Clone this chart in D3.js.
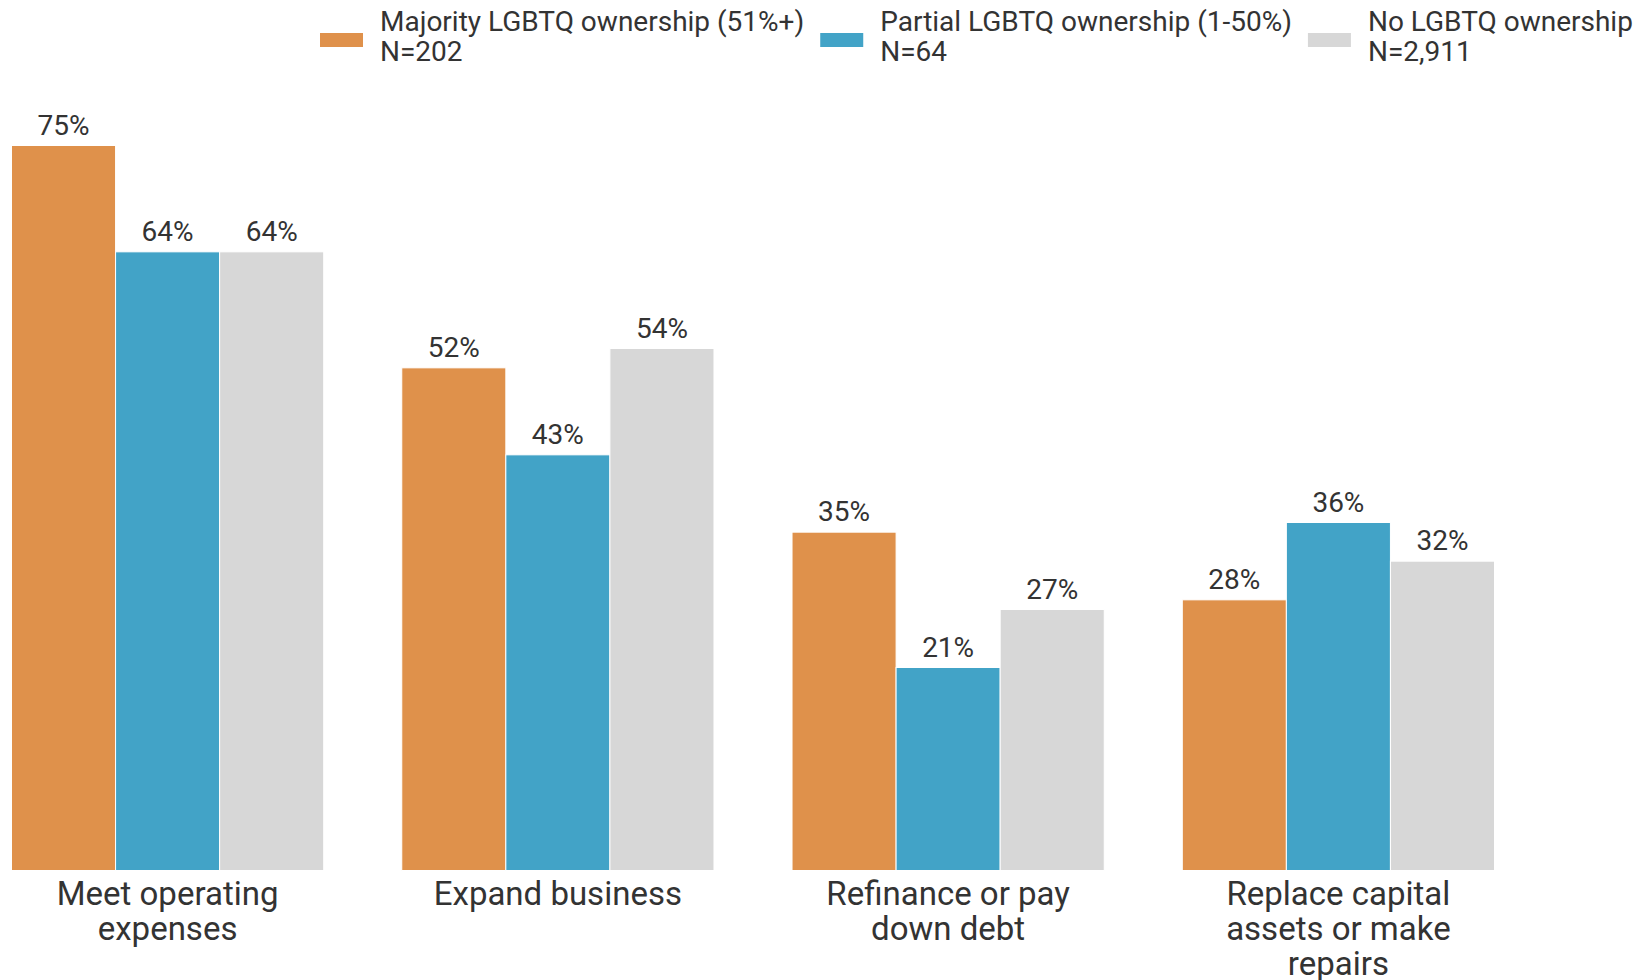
<!DOCTYPE html>
<html>
<head>
<meta charset="utf-8">
<script src="https://cdn.jsdelivr.net/npm/d3@7"></script>
<style>
	body { margin: 0; background: #fff; }
	text { font-family: Roboto, "Noto Sans", sans-serif; fill: #333; }
</style>
</head>
<body>
<div id="chartContainer"></div>
<script>

// categories, each split into its display lines
let categories = [
	["Meet operating", "expenses"],
	["Expand business"],
	["Refinance or pay", "down debt"],
	["Replace capital", "assets or make", "repairs"]
];

let seriesNames = ["Majority LGBTQ ownership (51%+)", "Partial LGBTQ ownership (1-50%)", "No LGBTQ ownership"];
let seriesN = ["N=202", "N=64", "N=2,911"];
let seriesColors = ["#df914b", "#42a3c7", "#d7d7d7"];

let majorityValues = [75, 52, 35, 28];
let partialValues = [64, 43, 21, 36];
let noneValues = [64, 54, 27, 32];

let allValues = [majorityValues, partialValues, noneValues];

function initializeBarChart(){

	let svg = d3.select("#chartContainer")
		.append("svg")
		.attr("width", 1642)
		.attr("height", 980);

	let groupScale = d3.scaleBand()
		.domain(d3.range(categories.length))
		.range([11.5, 1494.5])
		.paddingInner(0.2)
		.paddingOuter(0);

	let seriesScale = d3.scaleBand()
		.domain(d3.range(seriesNames.length))
		.range([0, groupScale.bandwidth()]);

	let yScale = d3.scaleLinear()
		.domain([0, 90])
		.range([870.5, 0.5]);

	let groups = svg.selectAll("g.group")
		.data(categories)
		.enter()
		.append("g")
		.attr("class", "group")
		.attr("transform", (d, i) => "translate(" + groupScale(i) + ",0)");

	groups.selectAll("rect")
		.data((d, i) => allValues.map((vals, s) => ({ s: s, v: vals[i] })))
		.enter()
		.append("rect")
		.attr("x", d => seriesScale(d.s))
		.attr("y", d => yScale(d.v))
		.attr("width", seriesScale.bandwidth())
		.attr("height", d => yScale(0) - yScale(d.v))
		.attr("fill", d => seriesColors[d.s])
		.attr("stroke", "#fff")
		.attr("stroke-width", 1);

	groups.selectAll("text.value")
		.data((d, i) => allValues.map((vals, s) => ({ s: s, v: vals[i] })))
		.enter()
		.append("text")
		.attr("class", "value")
		.attr("x", d => seriesScale(d.s) + seriesScale.bandwidth() / 2)
		.attr("y", d => yScale(d.v) - 11)
		.attr("text-anchor", "middle")
		.style("font-size", "28px")
		.text(d => d.v + "%");

	// category labels under each group
	let catLabels = groups.append("text")
		.attr("text-anchor", "middle")
		.style("font-size", "33px")
		.attr("x", groupScale.bandwidth() / 2)
		.attr("y", 905);

	catLabels.selectAll("tspan")
		.data(d => d)
		.enter()
		.append("tspan")
		.attr("x", groupScale.bandwidth() / 2)
		.attr("dy", (d, i) => i === 0 ? 0 : 35)
		.text(d => d);

	// legend, laid out left to right
	let legendX = 320;
	seriesNames.forEach(function(name, i){
		let item = svg.append("g").attr("transform", "translate(" + legendX + ",0)");
		item.append("rect")
			.attr("x", 0)
			.attr("y", 33)
			.attr("width", 43)
			.attr("height", 14)
			.attr("fill", seriesColors[i]);
		let label = item.append("text")
			.style("font-size", "28px")
			.attr("y", 31);
		label.append("tspan").attr("x", 60).text(name);
		label.append("tspan").attr("x", 60).attr("dy", 30).text(seriesN[i]);
		let w = label.node().getBBox().width;
		legendX += 60 + w + 16;
	});
}

initializeBarChart();

</script>
</body>
</html>
